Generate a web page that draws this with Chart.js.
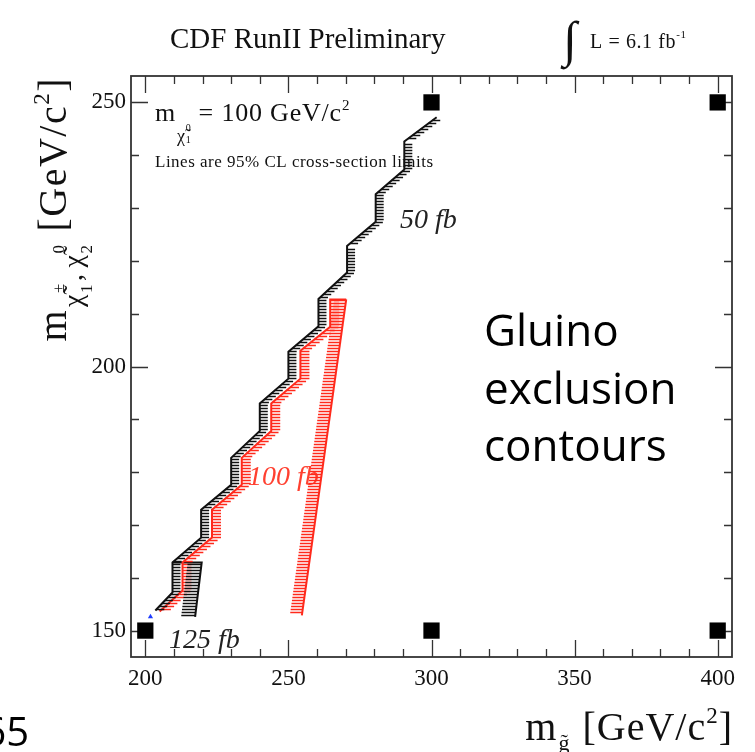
<!DOCTYPE html>
<html>
<head>
<meta charset="utf-8">
<script src="https://cdn.jsdelivr.net/npm/chart.js@4.4.1/dist/chart.umd.min.js"></script>
<style>
  html, body { margin: 0; padding: 0; background: #fff; }
</style>
</head>
<body>
<canvas id="gluinoChart" width="755" height="752"></canvas>
<script>
// axis ticks
var xTicks = [200, 250, 300, 350, 400];
var yTicks = [150, 200, 250];

// signal grid points (black squares)
var gridX = [200, 300, 400, 300, 400];
var gridY = [150, 150, 150, 250, 250];

// 50 fb limit contour
var lim50X = [301.8, 290.5, 290.5, 280.5, 280.5, 270.5, 270.5, 260.5, 260.5, 250, 250, 240, 240, 230, 230, 219.5, 219.5, 209.5, 209.5, 203.5];
var lim50Y = [247.2, 242.6, 237.3, 232.6, 227.4, 222.8, 217.8, 212.8, 207.6, 202.8, 197.7, 193, 187.8, 182.7, 177.6, 172.9, 167.6, 162.9, 157.2, 153.8];

// 100 fb limit contour (left staircase + top, right edge)
var lim100LeftX = [205, 213, 213, 223.3, 223.3, 233.7, 233.7, 244, 244, 254.2, 254.2, 264.6, 264.6, 270.2];
var lim100LeftY = [153.6, 157.6, 162.9, 167.6, 172.9, 177.6, 182.7, 187.8, 193, 197.7, 203, 207.5, 212.7, 212.7];
var lim100RightX = [270.2, 254.7];
var lim100RightY = [212.7, 152.9];

// 125 fb limit contour
var lim125X = [209.5, 219.7, 217.4];
var lim125Y = [162.9, 162.9, 152.6];

var markX = [201.8];
var markY = [152.6];

function pts(xs, ys) {
  return xs.map(function (x, i) { return { x: x, y: ys[i] }; });
}

var RED = '#ff2a1c';
var SERIF = '"Liberation Serif", "DejaVu Serif", serif';

function contour(xs, ys, color, hatch) {
  return {
    type: 'line',
    data: pts(xs, ys),
    borderColor: color,
    borderWidth: 2,
    pointRadius: 0,
    tension: 0,
    fill: false,
    hatch: hatch
  };
}

// draw a run of text pieces one after another
function rich(ctx, pieces, x, y, draw, spacing) {
  var cx = x;
  ctx.letterSpacing = (spacing || 0) + 'px';
  pieces.forEach(function (p) {
    ctx.font = (p.style || '') + ' ' + p.size + 'px ' + (p.family || SERIF);
    var w = ctx.measureText(p.t).width;
    if (draw) {
      ctx.fillStyle = p.color || '#111';
      ctx.fillText(p.t, cx + (p.dx || 0), y + (p.dy || 0));
    }
    if (!p.stack) cx += w + (p.gap || 0);
  });
  ctx.letterSpacing = '0px';
  return cx - x;
}

var hatchPlugin = {
  id: 'hatch',
  afterDatasetsDraw: function (chart) {
    var ctx = chart.ctx, xs = chart.scales.x, ys = chart.scales.y, a = chart.chartArea;
    chart.data.datasets.forEach(function (ds) {
      if (!ds.hatch) return;
      var p = ds.data.map(function (d) {
        return [xs.getPixelForValue(d.x), ys.getPixelForValue(d.y)];
      });
      var gap = 3;
      ctx.save();
      ctx.beginPath();
      ctx.rect(a.left, a.top, a.right - a.left, a.bottom - a.top);
      ctx.clip();
      ctx.beginPath();
      ctx.strokeStyle = ds.borderColor;
      ctx.lineWidth = 1.7;
      for (var i = 0; i < p.length - 1; i++) {
        var s = p[i], e = p[i + 1];
        var y0 = Math.min(s[1], e[1]), y1 = Math.max(s[1], e[1]);
        if (y1 - y0 < 1) continue;
        for (var y = Math.ceil(y0 / gap) * gap + 0.5; y <= y1; y += gap) {
          var t = (y - s[1]) / (e[1] - s[1]);
          var x = s[0] + t * (e[0] - s[0]);
          ctx.moveTo(x, y);
          ctx.lineTo(x + ds.hatch.side * ds.hatch.len, y);
        }
      }
      ctx.stroke();
      ctx.restore();
    });
  }
};

var labelPlugin = {
  id: 'labels',
  beforeDatasetsDraw: function (chart) {
    var ctx = chart.ctx;
    ctx.save();
    ctx.textAlign = 'left';
    ctx.textBaseline = 'alphabetic';
    ctx.font = 'italic 28px ' + SERIF;
    ctx.fillStyle = '#222';
    ctx.fillText('50 fb', 400, 228);
    ctx.fillText('125 fb', 169, 648);
    ctx.fillStyle = '#ff4030';
    ctx.fillText('100 fb', 248, 485);
    ctx.restore();
  },
  afterDraw: function (chart) {
    var ctx = chart.ctx;
    ctx.save();
    ctx.textAlign = 'left';
    ctx.textBaseline = 'alphabetic';

    // header
    ctx.fillStyle = '#111';
    ctx.font = '29px ' + SERIF;
    ctx.fillText('CDF RunII Preliminary', 170, 48);
    ctx.font = '50px ' + SERIF;
    ctx.fillText('\u222B', 563, 56);
    rich(ctx, [
      { t: 'L = 6.1 fb', size: 20 },
      { t: '-1', size: 11, dy: -10 }
    ], 590, 48, true, 0.6);

    // inside frame
    rich(ctx, [
      { t: 'm', size: 26 },
      { t: '\u03C7\u0303', size: 18, dy: 21, dx: 1, gap: 1 },
      { t: '0', size: 10, dy: 10, stack: true },
      { t: '1', size: 10, dy: 22, gap: 7 },
      { t: '= 100 GeV/c', size: 26 },
      { t: '2', size: 15, dy: -11 }
    ], 155, 121, true, 0.8);
    rich(ctx, [{ t: 'Lines are 95% CL cross-section limits', size: 17 }], 155, 167, true, 0.5);

    // x title
    var xt = [
      { t: 'm', size: 40, gap: 1 },
      { t: 'g\u0303', size: 22, dy: 10, gap: 12 },
      { t: '[GeV/c', size: 40 },
      { t: '2', size: 23, dy: -17 },
      { t: ']', size: 40 }
    ];
    var wx = rich(ctx, xt, 0, 0, false, 1);
    rich(ctx, xt, 733 - wx, 740, true, 1);

    // y title (rotated)
    var yt = [
      { t: 'm', size: 40, gap: 2 },
      { t: '\u03C7\u0303', size: 28, dy: 16, dx: 0 },
      { t: '\u00B1', size: 17, dy: -2, stack: true },
      { t: '1', size: 17, dy: 26, gap: 2 },
      { t: ',', size: 28, dy: 16, gap: 5 },
      { t: '\u03C7\u0303', size: 28, dy: 16 },
      { t: '0', size: 17, dy: -2, stack: true },
      { t: '2', size: 17, dy: 26, gap: 12 },
      { t: '[GeV/c', size: 40 },
      { t: '2', size: 23, dy: -17 },
      { t: ']', size: 40 }
    ];
    var wy = rich(ctx, yt, 0, 0, false, 1.5);
    ctx.translate(66, 77 + wy);
    ctx.rotate(-Math.PI / 2);
    rich(ctx, yt, 0, 0, true, 1.5);
    ctx.restore();

    // slide text
    ctx.save();
    ctx.fillStyle = '#000';
    ctx.font = '44px "Open Sans", sans-serif';
    ctx.fillText('Gluino', 484, 346);
    ctx.fillText('exclusion', 484, 404);
    ctx.fillText('contours', 484, 461);
    ctx.font = '40px "Open Sans", sans-serif';
    ctx.textAlign = 'right';
    ctx.fillText('65', 29, 746);
    ctx.restore();
  }
};

var framePlugin = {
  id: 'frame',
  beforeDatasetsDraw: function (chart) {
    var ctx = chart.ctx, a = chart.chartArea, xs = chart.scales.x, ys = chart.scales.y;
    ctx.save();
    ctx.strokeStyle = '#333';
    ctx.lineWidth = 1.8;
    ctx.strokeRect(a.left, a.top, a.right - a.left, a.bottom - a.top);
    ctx.beginPath();
    ctx.lineWidth = 1.3;
    for (var v = 200; v <= 400; v += 10) {
      var px = Math.round(xs.getPixelForValue(v)) + 0.5;
      var L = v % 50 === 0 ? 17 : 8;
      ctx.moveTo(px, a.bottom); ctx.lineTo(px, a.bottom - L);
      ctx.moveTo(px, a.top); ctx.lineTo(px, a.top + L);
    }
    for (var w = 150; w <= 250; w += 10) {
      var py = Math.round(ys.getPixelForValue(w)) + 0.5;
      var M = w % 50 === 0 ? 17 : 8;
      ctx.moveTo(a.left, py); ctx.lineTo(a.left + M, py);
      ctx.moveTo(a.right, py); ctx.lineTo(a.right - M, py);
    }
    ctx.stroke();
    ctx.restore();
  }
};

new Chart('gluinoChart', {
  type: 'scatter',
  data: {
    datasets: [
      contour(lim100LeftX, lim100LeftY, RED, { side: 1, len: 9 }),
      contour(lim100RightX, lim100RightY, RED, { side: -1, len: 12 }),
      contour(lim50X, lim50Y, '#111', { side: 1, len: 8 }),
      contour(lim125X, lim125Y, '#111', { side: -1, len: 14 }),
      {
        data: pts(gridX, gridY),
        pointStyle: 'rect',
        pointRadius: 11.5,
        backgroundColor: '#000',
        borderColor: '#000',
        borderWidth: 0
      },
      {
        data: pts(markX, markY),
        pointStyle: 'triangle',
        pointRadius: 3,
        backgroundColor: '#1e3cff',
        borderWidth: 0
      }
    ]
  },
  plugins: [framePlugin, labelPlugin, hatchPlugin],
  options: {
    responsive: false,
    animation: false,
    layout: { padding: { top: 76, right: 23, left: 0, bottom: 0 } },
    plugins: {
      legend: { display: false },
      tooltip: { enabled: false }
    },
    scales: {
      x: {
        type: 'linear',
        min: 195,
        max: 405,
        afterBuildTicks: function (s) { s.ticks = xTicks.map(function (v) { return { value: v }; }); },
        afterFit: function (s) { s.height = 95; },
        grid: { display: false, drawTicks: false },
        border: { display: false },
        ticks: {
          padding: 8,
          maxRotation: 0,
          autoSkip: false,
          color: '#111',
          font: { family: SERIF, size: 23 }
        }
      },
      y: {
        type: 'linear',
        min: 145,
        max: 255,
        afterBuildTicks: function (s) { s.ticks = yTicks.map(function (v) { return { value: v }; }); },
        afterFit: function (s) { s.width = 131; },
        grid: { display: false, drawTicks: false },
        border: { display: false },
        ticks: {
          padding: 5,
          autoSkip: false,
          color: '#111',
          font: { family: SERIF, size: 23 }
        }
      }
    }
  }
});
</script>
</body>
</html>
